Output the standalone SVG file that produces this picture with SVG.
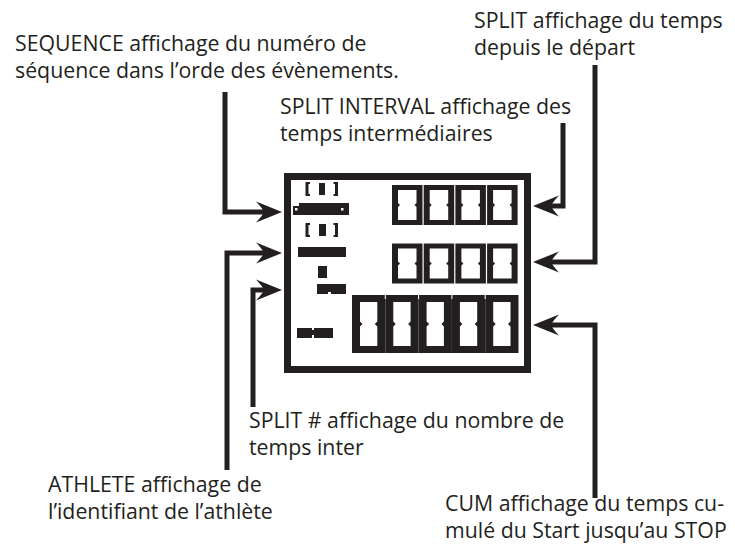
<svg xmlns="http://www.w3.org/2000/svg" xmlns:xlink="http://www.w3.org/1999/xlink" width="735" height="547" viewBox="0 0 735 547">
<style>
.lbl{font-family:"Open Sans","Liberation Sans",sans-serif;font-size:21.3px;fill:#231f20}
.conn{fill:none;stroke:#231f20;stroke-width:5;stroke-linejoin:miter}
.blk{fill:#231f20}
.wht{fill:#ffffff}
</style>
<defs>
<marker id="ah" viewBox="-14 -12 32 24" markerWidth="32" markerHeight="24" refX="0" refY="0" orient="auto" markerUnits="userSpaceOnUse">
<path d="M14,0 L-12,-10.5 Q-5,-3 -4,0 Q-5,3 -12,10.5 Z" fill="#231f20"/>
</marker>
<g id="dS">
<rect x="0" y="0" width="30.5" height="40" class="blk"/>
<path class="wht" d="M6,5 H24.5 V18 L22.5,20 L24.5,22 V35 H6 V22 L8,20 L6,18 Z"/>
</g>
<g id="dB">
<rect x="0" y="0" width="33.3" height="58" class="blk"/>
<path class="wht" d="M8,7 H25.3 V26.5 L22.8,29 L25.3,31.5 V51 H8 V31.5 L10.5,29 L8,26.5 Z"/>
</g>
</defs>
<rect width="735" height="547" fill="#ffffff"/>

<g id="display">
<rect x="287.5" y="176.5" width="240" height="193" fill="none" stroke="#231f20" stroke-width="7"/>
<!-- sequence indicator -->
<path class="blk" d="M305.5,182 h4.5 v2 h-1.5 v10 h1.5 v2 h-4.5 Z"/>
<rect class="blk" x="319" y="183" width="6" height="12"/>
<path class="blk" d="M338,182 h-4.5 v2 h1.5 v10 h-1.5 v2 h4.5 Z"/>
<rect class="blk" x="293" y="203" width="56" height="12"/>
<rect class="wht" x="293" y="203" width="6" height="3"/>
<rect class="wht" x="295" y="208" width="2.5" height="2.5"/>
<rect class="wht" x="341" y="208" width="2.5" height="2.5"/>
<!-- athlete indicator -->
<path class="blk" d="M305.5,223 h4.5 v2 h-1.5 v10 h1.5 v2 h-4.5 Z"/>
<rect class="blk" x="319" y="224" width="7" height="12"/>
<path class="blk" d="M338,223 h-4.5 v2 h1.5 v10 h-1.5 v2 h4.5 Z"/>
<rect class="blk" x="298" y="247" width="48" height="10"/>
<!-- split # indicator -->
<rect class="blk" x="318" y="266" width="9" height="12"/>
<rect class="blk" x="317" y="284" width="29" height="10"/>
<rect class="wht" x="328" y="292" width="3" height="2"/>
<!-- cum indicator -->
<rect class="blk" x="297" y="328" width="36" height="10"/>
<rect class="wht" x="312" y="335" width="2" height="3"/>
<rect class="wht" x="312" y="328" width="2" height="2"/>
<!-- split row -->
<use xlink:href="#dS" x="392" y="185"/>
<use xlink:href="#dS" x="423.7" y="185"/>
<use xlink:href="#dS" x="455.4" y="185"/>
<use xlink:href="#dS" x="487.1" y="185"/>
<!-- split interval row -->
<use xlink:href="#dS" x="392" y="243.5"/>
<use xlink:href="#dS" x="423.7" y="243.5"/>
<use xlink:href="#dS" x="455.4" y="243.5"/>
<use xlink:href="#dS" x="487.1" y="243.5"/>
<!-- cum row -->
<use xlink:href="#dB" x="352" y="295"/>
<use xlink:href="#dB" x="385.3" y="295"/>
<use xlink:href="#dB" x="418.6" y="295"/>
<use xlink:href="#dB" x="451.9" y="295"/>
<use xlink:href="#dB" x="485.2" y="295"/>
<rect class="wht" x="384.8" y="295" width="1" height="4"/>
<rect class="wht" x="418.1" y="295" width="1" height="4"/>
<rect class="wht" x="451.4" y="295" width="1" height="4"/>
<rect class="wht" x="484.7" y="295" width="1" height="4"/>
</g>

<g id="connectors">
<path class="conn" d="M225,92 V212 H268" marker-end="url(#ah)"/>
<path class="conn" d="M227,470 V253 H268" marker-end="url(#ah)"/>
<path class="conn" d="M253,407 V290 H268" marker-end="url(#ah)"/>
<path class="conn" d="M563,123 V206 H547" marker-end="url(#ah)"/>
<path class="conn" d="M595,65 V262 H547" marker-end="url(#ah)"/>
<path class="conn" d="M595,498 V325 H547" marker-end="url(#ah)"/>
</g>

<g id="label-sequence">
<text class="lbl" x="15" y="51">SEQUENCE affichage du numéro de<tspan x="15" dy="27">séquence dans l’orde des évènements.</tspan></text>
</g>
<g id="label-split">
<text class="lbl" x="474" y="28">SPLIT affichage du temps<tspan x="474" dy="27">depuis le départ</tspan></text>
</g>
<g id="label-split-interval">
<text class="lbl" x="280" y="114">SPLIT INTERVAL affichage des<tspan x="280" dy="27">temps intermédiaires</tspan></text>
</g>
<g id="label-split-number">
<text class="lbl" x="249" y="428">SPLIT # affichage du nombre de<tspan x="249" dy="27">temps inter</tspan></text>
</g>
<g id="label-athlete">
<text class="lbl" x="48" y="492">ATHLETE affichage de<tspan x="48" dy="27">l’identifiant de l’athlète</tspan></text>
</g>
<g id="label-cum">
<text class="lbl" x="445" y="511">CUM affichage du temps cu-<tspan x="445" dy="27">mulé du Start jusqu’au STOP</tspan></text>
</g>
</svg>
